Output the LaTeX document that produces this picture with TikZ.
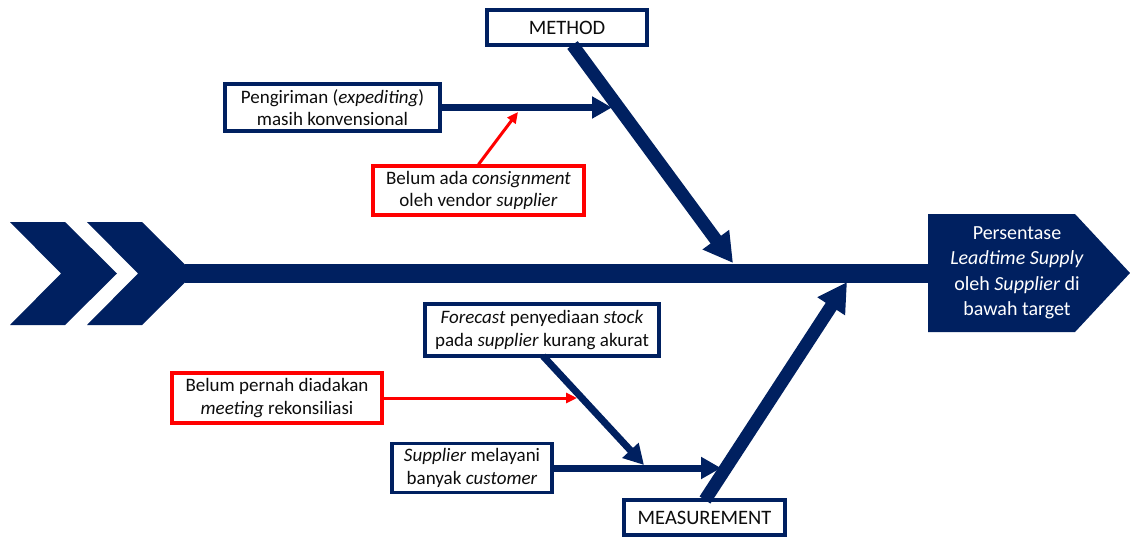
\documentclass[tikz,border=0pt]{standalone}
\usepackage{fontspec}
\setmainfont{Carlito}
\usetikzlibrary{arrows.meta}
\definecolor{navy}{HTML}{002060}
\definecolor{alert}{HTML}{FF0000}
\definecolor{ink}{HTML}{0D0D0D}
\tikzset{
  cause/.style={draw=navy, line width=3.2, fill=white, align=center, inner sep=0,
    text=ink, font=\fontsize{19}{22.5}\selectfont},
  subcause/.style={cause, draw=alert},
  category/.style={cause, font=\fontsize{20.5}{24}\selectfont},
  bone/.style={navy, line width=13, -{Triangle[length=29, width=31]}},
  twig/.style={navy, line width=7, -{Triangle[length=20, width=21]}},
  redtwig/.style={alert, line width=3, -{Triangle[length=11, width=10]}},
}
\begin{document}
\begin{tikzpicture}[x=1pt, y=-1pt]
  \useasboundingbox (0,0) rectangle (1130,536);

  % Chevrons at the tail
  \foreach \o in {0,77} {
    \fill[navy] (10+\o,222) -- (65+\o,222) -- (117+\o,273.5) -- (65+\o,325)
      -- (10+\o,325) -- (61+\o,273.5) -- cycle;
  }

  % Head of the fish
  \fill[navy] (928,214) -- (1075,214) -- (1130,273) -- (1075,332) -- (928,332) -- cycle;
  \node[text=white, align=center, font=\fontsize{20}{25.5}\selectfont] (effect) at (1017,273)
    {Persentase\\\textit{Leadtime Supply}\\oleh \textit{Supplier} di\\bawah target};

  % Spine
  \coordinate (tail) at (185,273);
  \coordinate (headw) at (928,273);
  \draw[navy, line width=19] (tail) -- (headw);

  % Main categories
  \node[category, minimum width=160, minimum height=35] (method) at (567,27.5) {METHOD};
  \node[category, minimum width=161, minimum height=35] (measure) at (704.5,517.5) {MEASUREMENT};
  \coordinate (mtop) at (572.5,45);
  \coordinate (mtip) at (733,263);
  \coordinate (stop) at (705,500);
  \coordinate (stip) at (847,282);
  \draw[bone] (mtop) -- (mtip);
  \draw[bone] (stop) -- (stip);

  % Causes on the METHOD bone
  \node[cause, minimum width=215, minimum height=47] (kirim) at (332.5,107.5)
    {Pengiriman (\textit{expediting})\\masih konvensional};
  \node[subcause, minimum width=211, minimum height=49] (konsi) at (478.5,190.5)
    {Belum ada \textit{consignment}\\oleh vendor \textit{supplier}};
  \coordinate (kirimhit) at (612,107.5);
  \coordinate (konsihit) at (518,112);
  \draw[twig] (kirim.east) -- (kirimhit);
  \draw[redtwig] (konsi.north) -- (konsihit);

  % Causes on the MEASUREMENT bone
  \node[cause, minimum width=234, minimum height=52] (ramal) at (542,330)
    {\textit{Forecast} penyediaan \textit{stock}\\pada \textit{supplier} kurang akurat};
  \node[subcause, minimum width=210, minimum height=50] (rapat) at (277,398)
    {Belum pernah diadakan\\\textit{meeting} rekonsiliasi};
  \node[cause, minimum width=160, minimum height=49] (layan) at (472,468)
    {\textit{Supplier} melayani\\banyak \textit{customer}};
  \coordinate (ramalbot) at (543,356);
  \coordinate (ramalhit) at (644,465);
  \coordinate (rapathit) at (577,398);
  \coordinate (layanhit) at (721,468);
  \draw[twig] (ramalbot) -- (ramalhit);
  \draw[redtwig] (rapat.east) -- (rapathit);
  \draw[twig] (layan.east) -- (layanhit);
\end{tikzpicture}
\end{document}
